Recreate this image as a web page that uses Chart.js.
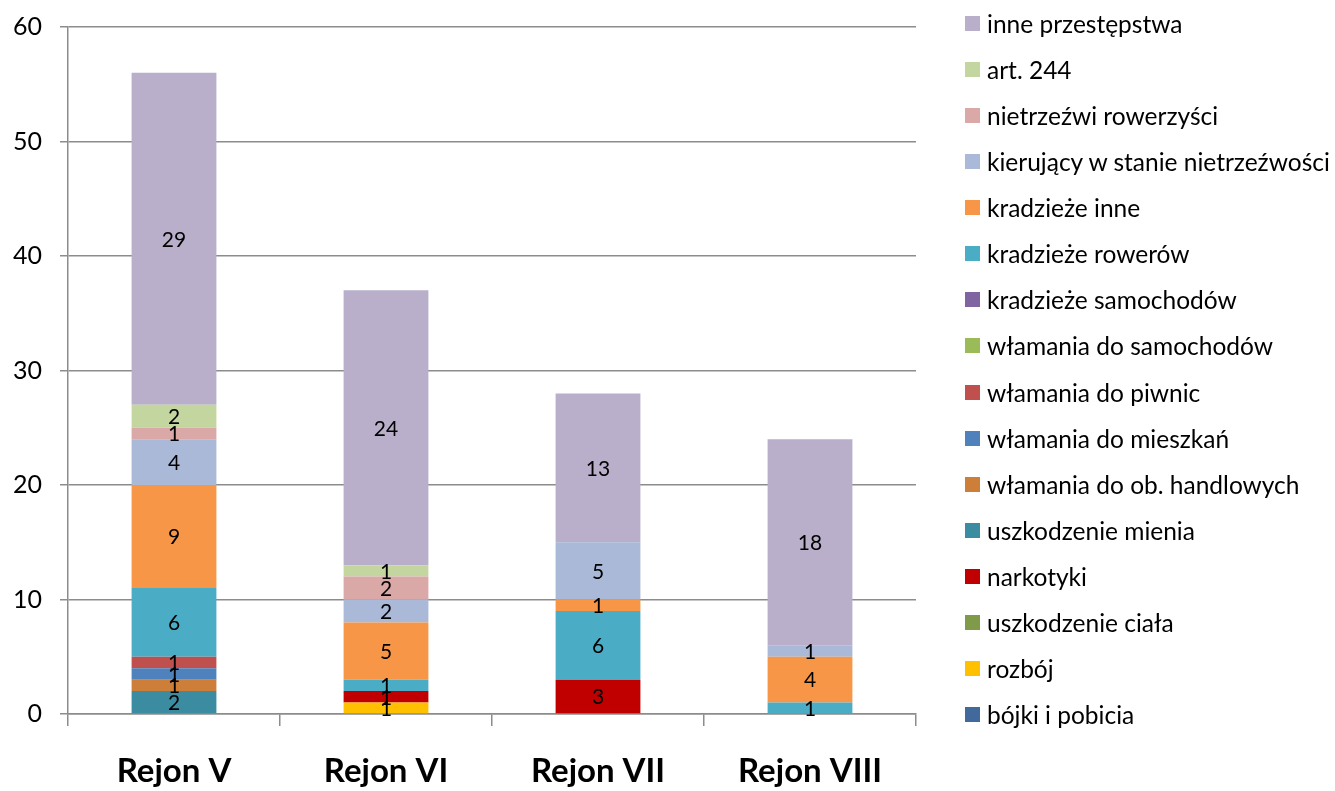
<!DOCTYPE html>
<html>
<head>
<meta charset="utf-8">
<script src="https://cdn.jsdelivr.net/npm/chart.js@4.4.1/dist/chart.umd.min.js"></script>
<style>
    html, body { margin: 0; padding: 0; background: #fff; }
    #wrap { position: relative; width: 1335px; height: 791px; }
    #legend {
        position: absolute; left: 965px; top: 0px;
        font-family: Lato, sans-serif; font-size: 24.5px; color: #000;
    }
    .item { display: flex; align-items: center; height: 46.13px; white-space: nowrap; }
    .box { width: 15px; height: 15px; margin-right: 7px; flex: none; }
</style>
</head>
<body>
<div id="wrap">
    <canvas id="chart" width="1335" height="791"></canvas>
    <div id="legend"></div>
</div>
<script>
document.addEventListener('DOMContentLoaded', function () {

    const categories = ['Rejon V', 'Rejon VI', 'Rejon VII', 'Rejon VIII'];

    // series, bottom of the stack first
    const bojki          = [0, 0, 0, 0];
    const rozboj         = [0, 1, 0, 0];
    const uszkCiala      = [0, 0, 0, 0];
    const narkotyki      = [0, 1, 3, 0];
    const uszkMienia     = [2, 0, 0, 0];
    const wlamHandlowe   = [1, 0, 0, 0];
    const wlamMieszkania = [1, 0, 0, 0];
    const wlamPiwnice    = [1, 0, 0, 0];
    const wlamSamochody  = [0, 0, 0, 0];
    const kradzSamochody = [0, 0, 0, 0];
    const kradzRowery    = [6, 1, 6, 1];
    const kradzInne      = [9, 5, 1, 4];
    const kierujacy      = [4, 2, 5, 1];
    const rowerzysci     = [1, 2, 0, 0];
    const art244         = [2, 1, 0, 0];
    const inne           = [29, 24, 13, 18];

    const yTicks = [0, 10, 20, 30, 40, 50, 60];

    const series = [
        ['bójki i pobicia', bojki, '#41699c'],
        ['rozbój', rozboj, '#ffc000'],
        ['uszkodzenie ciała', uszkCiala, '#7f9a48'],
        ['narkotyki', narkotyki, '#c00000'],
        ['uszkodzenie mienia', uszkMienia, '#3b8ba1'],
        ['włamania do ob. handlowych', wlamHandlowe, '#cd7f3a'],
        ['włamania do mieszkań', wlamMieszkania, '#4f81bd'],
        ['włamania do piwnic', wlamPiwnice, '#c0504d'],
        ['włamania do samochodów', wlamSamochody, '#9bbb59'],
        ['kradzieże samochodów', kradzSamochody, '#8064a2'],
        ['kradzieże rowerów', kradzRowery, '#4bacc6'],
        ['kradzieże inne', kradzInne, '#f79646'],
        ['kierujący w stanie nietrzeźwości', kierujacy, '#a9b9d7'],
        ['nietrzeźwi rowerzyści', rowerzysci, '#daa8a7'],
        ['art. 244', art244, '#c4d6a0'],
        ['inne przestępstwa', inne, '#b9afca']
    ];

    const gridColor = '#8c8c8c';

    /* value labels in the middle of each segment */
    const valueLabels = {
        id: 'valueLabels',
        afterDatasetsDraw(chart) {
            const ctx = chart.ctx;
            ctx.save();
            ctx.font = '21px Lato';
            ctx.fillStyle = '#000';
            ctx.textAlign = 'center';
            ctx.textBaseline = 'middle';
            chart.data.datasets.forEach(function (ds, i) {
                const meta = chart.getDatasetMeta(i);
                meta.data.forEach(function (bar, j) {
                    const v = ds.data[j];
                    if (!v) return;
                    ctx.fillText(String(v), bar.x, (bar.y + bar.base) / 2 + 1);
                });
            });
            ctx.restore();
        }
    };

    const chart = new Chart(document.getElementById('chart'), {
        type: 'bar',
        data: {
            labels: categories,
            datasets: series.map(function (s) {
                return {
                    label: s[0],
                    data: s[1],
                    backgroundColor: s[2],
                    borderWidth: 0,
                    barPercentage: 0.4,
                    categoryPercentage: 1.0
                };
            })
        },
        options: {
            responsive: false,
            devicePixelRatio: 1,
            animation: false,
            layout: { padding: { top: 27, right: 419, bottom: 0, left: 0 } },
            plugins: {
                legend: { display: false },
                tooltip: { enabled: false }
            },
            scales: {
                x: {
                    stacked: true,
                    grid: {
                        display: true,
                        drawOnChartArea: false,
                        drawTicks: true,
                        tickLength: 12,
                        offset: true,
                        color: gridColor,
                        lineWidth: 1.5
                    },
                    border: { display: true, color: gridColor, width: 1.5 },
                    ticks: {
                        font: { family: 'Lato', size: 33, weight: 'bold' },
                        color: '#000',
                        padding: 26
                    },
                    afterFit: function (scale) {
                        scale.height = 77;
                        scale.paddingLeft = 0;
                        scale.paddingRight = 0;
                    }
                },
                y: {
                    stacked: true,
                    min: 0,
                    max: 60,
                    afterBuildTicks: function (scale) {
                        scale.ticks = yTicks.map(function (v) { return { value: v }; });
                    },
                    grid: {
                        color: gridColor,
                        lineWidth: 1.5,
                        drawTicks: true,
                        tickLength: 8
                    },
                    border: { display: true, color: gridColor, width: 1.5 },
                    ticks: {
                        font: { family: 'Lato', size: 25 },
                        color: '#000',
                        padding: 18
                    },
                    afterFit: function (scale) {
                        scale.width = 68;
                        scale.paddingTop = 0;
                        scale.paddingBottom = 0;
                    }
                }
            }
        },
        plugins: [valueLabels]
    });

    /* legend, top item is the top of the stack */
    const legendEl = document.getElementById('legend');
    chart.data.datasets.slice().reverse().forEach(function (ds) {
        const row = document.createElement('div');
        row.className = 'item';
        const box = document.createElement('span');
        box.className = 'box';
        box.style.background = ds.backgroundColor;
        const txt = document.createElement('span');
        txt.textContent = ds.label;
        row.appendChild(box);
        row.appendChild(txt);
        legendEl.appendChild(row);
    });
});
</script>
</body>
</html>
